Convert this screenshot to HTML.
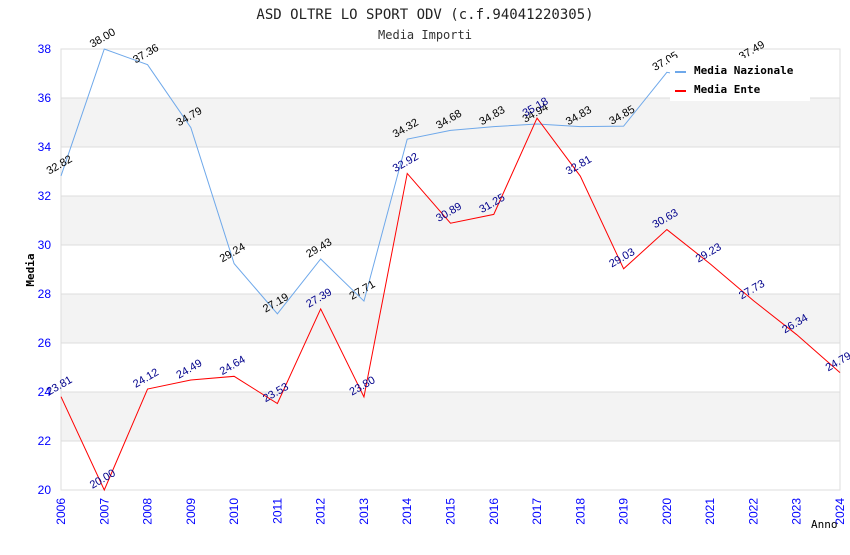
<!DOCTYPE html>
<html><head><meta charset="utf-8"><style>
body{margin:0;background:#fff;}
svg text{font-family:"DejaVu Sans Mono","Liberation Mono",monospace;}
.t{font-family:"Liberation Sans","DejaVu Sans",sans-serif;}
</style></head><body>
<svg id="c" width="850" height="550" xmlns="http://www.w3.org/2000/svg">
<text x="425" y="19" text-anchor="middle" font-size="14" fill="#222">ASD OLTRE LO SPORT ODV (c.f.94041220305)</text>
<text x="425" y="39" text-anchor="middle" font-size="12" fill="#333">Media Importi</text>
<g id="plot"></g>
</svg>
<script>
const years=[2006,2007,2008,2009,2010,2011,2012,2013,2014,2015,2016,2017,2018,2019,2020,2021,2022,2023,2024];
const nazionale=[32.82,38.00,37.36,34.79,29.24,27.19,29.43,27.71,34.32,34.68,34.83,34.94,34.83,34.85,37.05,36.7,37.49,null,null];
const ente=[23.81,20.00,24.12,24.49,24.64,23.53,27.39,23.80,32.92,30.89,31.25,35.18,32.81,29.03,30.63,29.23,27.73,26.34,24.79];
const yTicks=[20,22,24,26,28,30,32,34,36,38];
const X0=61,X1=840,Y0=490,Y1=49,YMIN=20,YMAX=38;
const x=i=>X0+(X1-X0)*i/(years.length-1);
const y=v=>Y0-(v-YMIN)/(YMAX-YMIN)*(Y0-Y1);
const NS="http://www.w3.org/2000/svg";
const g=document.getElementById('plot');
function mk(t,a,p){const e=document.createElementNS(NS,t);for(const k in a)e.setAttribute(k,a[k]);(p||g).appendChild(e);return e;}
for(let i=0;i<yTicks.length-1;i++){
 if(i%2===1){const r=mk('rect',{x:X0,y:y(yTicks[i+1]),width:X1-X0,height:y(yTicks[i])-y(yTicks[i+1]),fill:'#f3f3f3'});
 
 }
}
yTicks.forEach(v=>{
 const l=mk('line',{x1:X0,x2:X1,y1:y(v),y2:y(v),stroke:'#ddd'});
 
 
 const t=mk('text',{x:X0-10,y:y(v)+4,'text-anchor':'end','font-size':12,fill:'#00f',class:'t'});
 t.textContent=v;
 
 
});
const fr=mk('rect',{x:X0,y:Y1,width:X1-X0,height:Y0-Y1,fill:'none',stroke:'#ddd'});


years.forEach((yr,i)=>{
 const t=mk('text',{x:0,y:0,'text-anchor':'end','font-size':12,fill:'#00f',class:'t',transform:`translate(${x(i)+4},${Y0+8}) rotate(-90)`});
 t.textContent=yr;
 
 
});
function series(vals,color,lc,name){
 let d='';vals.forEach((v,i)=>{if(v==null)return;d+=(d?'L':'M')+x(i)+','+y(v);});
 const p=mk('path',{d:d,fill:'none',stroke:color,'stroke-width':1});
 
 
 vals.forEach((v,i)=>{if(v==null)return;
  const t=mk('text',{x:0,y:0,'text-anchor':'middle','font-size':11,fill:lc,class:'t',transform:`translate(${x(i)},${y(v)-8}) rotate(-30)`});
  t.textContent=v.toFixed(2);
  
  
 });
}
series(nazionale,'#6ea8ea','#000','nazionale');
series(ente,'#f00','#00008b','ente');
const lg=mk('g',{});


mk('rect',{x:670,y:58,width:140,height:43,fill:'#fff'},lg);
[['Media Nazionale','#6ea8ea',73],['Media Ente','#f00',92]].forEach(([n,c,yy])=>{
 mk('rect',{x:675,y:yy-2,width:11,height:2,fill:c},lg);
 const t=mk('text',{x:694,y:yy+1,'font-size':11,'font-weight':'bold',fill:'#000'},lg);
 t.textContent=n;
 
 
});
const yt=mk('text',{x:0,y:0,'text-anchor':'middle','font-size':11,'font-weight':'bold',fill:'#000',transform:`translate(34,270) rotate(-90)`});
yt.textContent='Media';


const xt=mk('text',{x:811,y:528,'font-size':11,fill:'#000'});
xt.textContent='Anno';


</script>
</body></html>
